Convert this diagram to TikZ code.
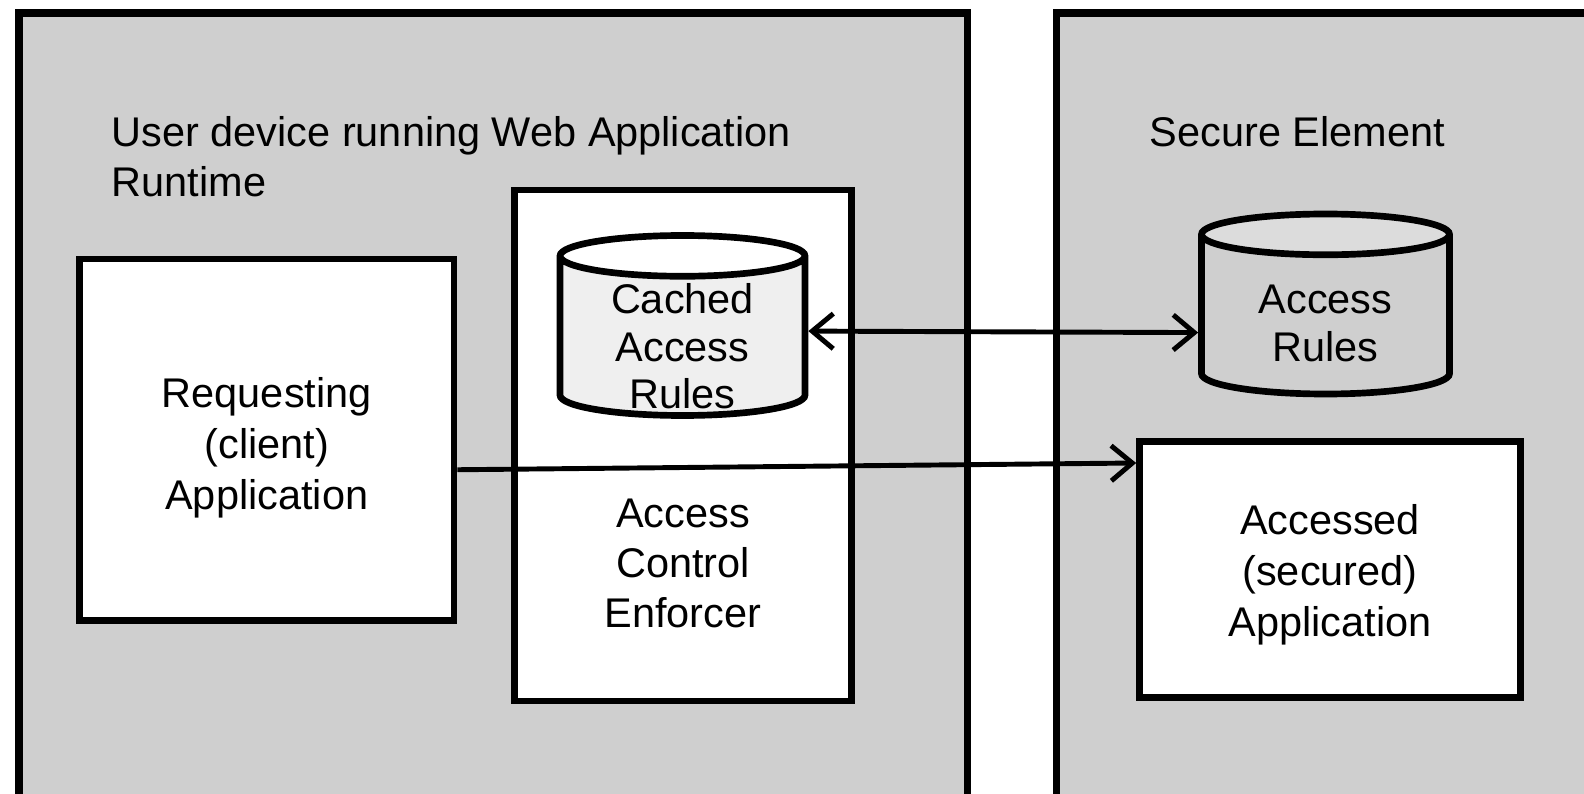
\documentclass[tikz,border=0pt]{standalone}
\usepackage{fontspec}
\setmainfont{Liberation Sans}
\usetikzlibrary{arrows.meta,shapes.geometric}
\definecolor{panelgray}{RGB}{207,207,207}
\definecolor{cachegray}{RGB}{239,239,239}
\definecolor{rulestop}{RGB}{220,220,220}

\begin{document}
\begin{tikzpicture}[
  font=\fontsize{11.8}{14.5}\selectfont,
  panel/.style={draw, line width=2pt, fill=panelgray, anchor=north west, inner sep=0pt},
  box/.style={draw, line width=1.9pt, fill=white, inner sep=0pt},
  store/.style={shape=cylinder, shape border rotate=90, draw, line width=1.9pt, aspect=1.45,
                cylinder uses custom fill, inner sep=4pt, anchor=shape center},
  lbl/.style={align=center, inner sep=0pt},
  arr/.style={-{Straight Barb[length=6pt,width=10pt]}, line width=1.4pt},
  arrboth/.style={{Straight Barb[length=6pt,width=10pt]}-{Straight Barb[length=6pt,width=10pt]}, line width=1.4pt},
]
\clip (0,0) rectangle (15.84,-7.94);
\fill[white] (0,0) rectangle (15.84,-7.94);

% the two sides
\node[panel, minimum width=9.48cm, minimum height=9cm] (device) at (0.155,-0.095) {};
\node[panel, minimum width=6cm, minimum height=9cm] (secure) at (10.53,-0.095) {};
\node[lbl, align=left, anchor=base west] (devtitle) at (1.11,-1.97)
  {User device running Web Application\\Runtime};
\node[lbl, anchor=base west] (setitle) at (11.49,-1.47) {Secure Element};

% web runtime side
\node[box, minimum width=3.745cm, minimum height=3.615cm] (reqapp) at (2.6675,-4.3975) {};
\node[lbl] (reqtext) at (2.6675,-4.48) {Requesting\\(client)\\Application};
\node[box, minimum width=3.37cm, minimum height=5.11cm] (ace) at (6.83,-4.455) {};
\node[lbl, font=\fontsize{11.8}{14.3}\selectfont] (acetext) at (6.83,-5.635)
  {Access\\Control\\Enforcer};
\node[store, cylinder body fill=cachegray, cylinder end fill=white,
      minimum width=2.45cm, minimum height=1.8cm] (cached) at (6.825,-3.255) {};
\node[lbl, font=\fontsize{11.8}{13.5}\selectfont] (cachedtext) at (6.825,-3.465)
  {Cached\\Access\\Rules};

% secure element side
\node[store, cylinder body fill=panelgray, cylinder end fill=rulestop,
      minimum width=2.48cm, minimum height=1.8cm] (rules) at (13.255,-3.04) {};
\node[lbl, font=\fontsize{11.8}{13.6}\selectfont] (rulestext) at (13.255,-3.235) {Access\\Rules};
\node[box, minimum width=3.81cm, minimum height=2.56cm] (accapp) at (13.3,-5.695) {};
\node[lbl] (acctext) at (13.3,-5.745) {Accessed\\(secured)\\Application};

\draw[arrboth] ([yshift=0.11cm]cached.east) -- ([yshift=-0.12cm]rules.west);
\draw[arr] ([yshift=-0.3cm]reqapp.east) -- ([yshift=1.065cm]accapp.west);
\end{tikzpicture}
\end{document}
